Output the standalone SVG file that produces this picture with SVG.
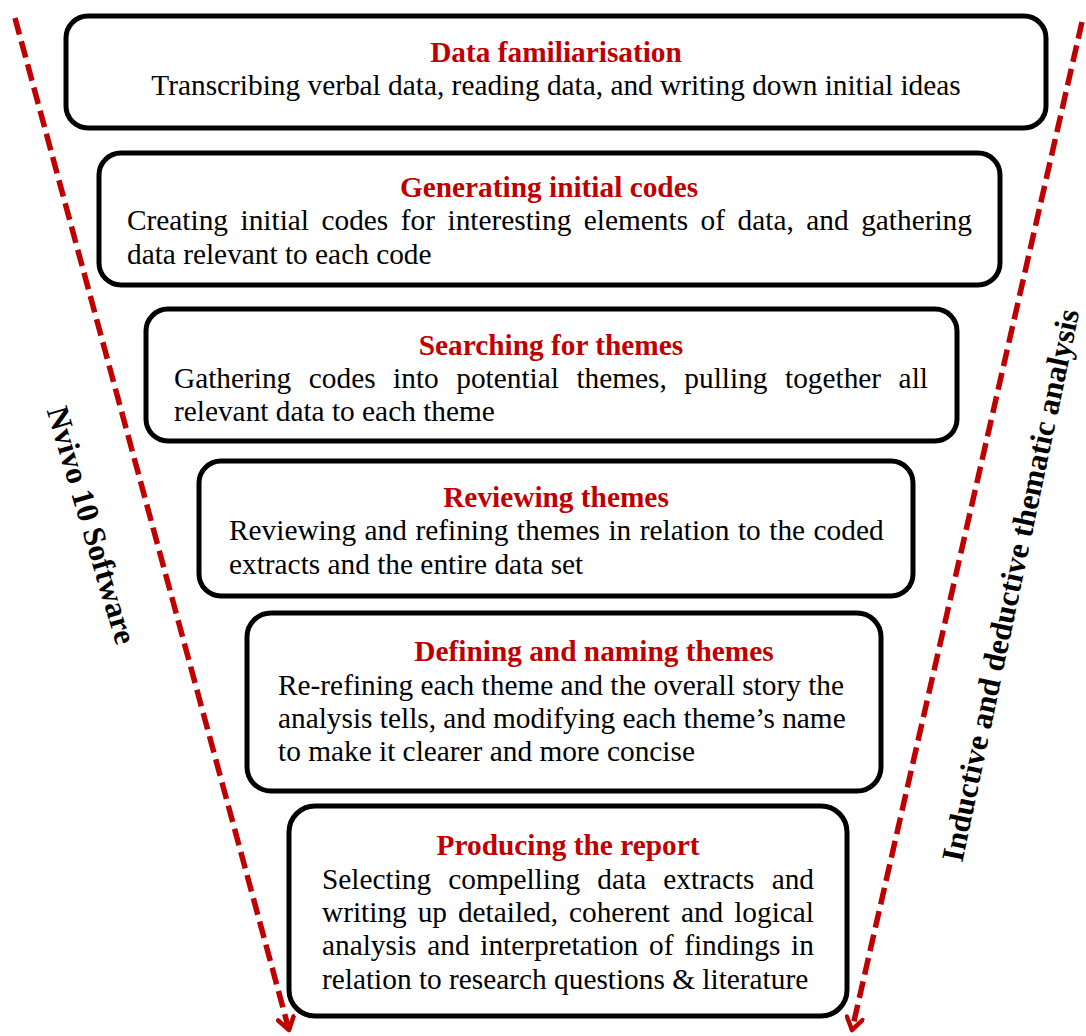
<svg xmlns="http://www.w3.org/2000/svg" width="1086" height="1036" viewBox="0 0 1086 1036">
<style>
.box{fill:#fff;stroke:#000;stroke-width:5}
.t{font-family:"Liberation Serif","Times New Roman",serif;font-weight:bold;font-size:29.33px;fill:#C00000;text-anchor:middle}
.b{font-family:"Liberation Serif","Tinos","Nimbus Roman","DejaVu Serif",serif;font-weight:normal;font-style:normal;font-size:29.33px;fill:#000}
.c{text-anchor:middle}
.side{font-family:"Liberation Serif","Times New Roman",serif;font-weight:bold;font-size:31.5px;fill:#000;text-anchor:middle}
.arr{fill:none;stroke:#C00000;stroke-width:5.5;stroke-dasharray:17 7}
</style>
<defs>
<marker id="head" viewBox="0 0 20 20" refX="16" refY="10" markerWidth="20" markerHeight="20" markerUnits="userSpaceOnUse" orient="auto">
<path d="M4,2 L16,10 L4,18" fill="none" stroke="#C00000" stroke-width="4.5" stroke-linecap="round" stroke-linejoin="round"/>
</marker>
</defs>
<g id="connectors">
<line class="arr" x1="15" y1="18" x2="289" y2="1030" marker-end="url(#head)"/>
<line class="arr" x1="1082" y1="22" x2="852" y2="1030" marker-end="url(#head)"/>
</g>
<g id="node1">
<rect class="box" x="66" y="16" width="980" height="112" rx="22"/>
<text class="t" x="556" y="62">Data familiarisation</text>
<text class="b c" x="556" y="95">Transcribing verbal data, reading data, and writing down initial ideas</text>
</g>
<g id="node2">
<rect class="box" x="99" y="153" width="901" height="132" rx="22"/>
<text class="t" x="549" y="197">Generating initial codes</text>
<text class="b" x="127" y="230" word-spacing="5.2">Creating initial codes for interesting elements of data, and gathering</text>
<text class="b" x="127" y="264">data relevant to each code</text>
</g>
<g id="node3">
<rect class="box" x="146" y="309" width="811" height="132" rx="22"/>
<text class="t" x="551" y="355">Searching for themes</text>
<text class="b" x="174" y="388" word-spacing="10.2">Gathering codes into potential themes, pulling together all</text>
<text class="b" x="174" y="421">relevant data to each theme</text>
</g>
<g id="node4">
<rect class="box" x="199" y="461" width="714" height="135" rx="22"/>
<text class="t" x="556" y="507">Reviewing themes</text>
<text class="b" x="229" y="540" word-spacing="1.2">Reviewing and refining themes in relation to the coded</text>
<text class="b" x="229" y="574">extracts and the entire data set</text>
</g>
<g id="node5">
<rect class="box" x="247" y="613" width="634" height="178" rx="24"/>
<text class="t" x="594" y="661">Defining and naming themes</text>
<text class="b" x="278" y="695">Re-refining each theme and the overall story the</text>
<text class="b" x="278" y="728">analysis tells, and modifying each theme’s name</text>
<text class="b" x="278" y="761">to make it clearer and more concise</text>
</g>
<g id="node6">
<rect class="box" x="289" y="806" width="558" height="210" rx="26"/>
<text class="t" x="568" y="855">Producing the report</text>
<text class="b" x="322" y="889" word-spacing="9.8">Selecting compelling data extracts and</text>
<text class="b" x="322" y="922" word-spacing="3.6">writing up detailed, coherent and logical</text>
<text class="b" x="322" y="955" word-spacing="3.4">analysis and interpretation of findings in</text>
<text class="b" x="322" y="989">relation to research questions &amp; literature</text>
</g>
<g id="label-left">
<text class="side" transform="translate(92,525) rotate(73.5)" y="11">Nvivo 10 Software</text>
</g>
<g id="label-right">
<text class="side" transform="translate(1010,585) rotate(-78)" y="11">Inductive and deductive thematic analysis</text>
</g>
</svg>
